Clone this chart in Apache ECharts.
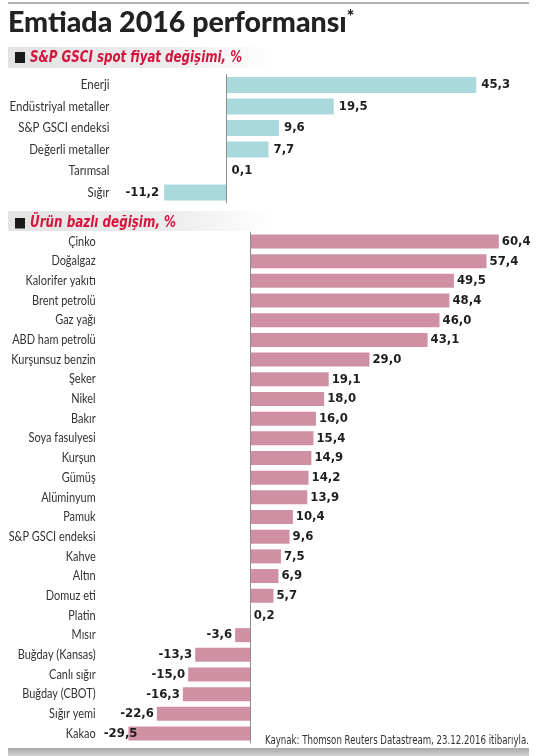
<!DOCTYPE html>
<html><head><meta charset="utf-8">
<script src="https://cdn.jsdelivr.net/npm/echarts@6/dist/echarts.min.js"></script>
<style>html,body{margin:0;padding:0;background:#fff}#c{width:551px;height:756px}</style>
</head><body><div id="c"></div>
<script>
const cat1 = ['Enerji','Endüstriyal metaller','S&P GSCI endeksi','Değerli metaller','Tarımsal','Sığır'];
const val1 = [45.3, 19.5, 9.6, 7.7, 0.1, -11.2];

const cat2 = ['Çinko','Doğalgaz','Kalorifer yakıtı','Brent petrolü','Gaz yağı','ABD ham petrolü','Kurşunsuz benzin','Şeker','Nikel','Bakır','Soya fasulyesi','Kurşun','Gümüş','Alüminyum','Pamuk','S&P GSCI endeksi','Kahve','Altın','Domuz eti','Platin','Mısır','Buğday (Kansas)','Canlı sığır','Buğday (CBOT)','Sığır yemi','Kakao'];
const val2 = [60.4, 57.4, 49.5, 48.4, 46.0, 43.1, 29.0, 19.1, 18.0, 16.0, 15.4, 14.9, 14.2, 13.9, 10.4, 9.6, 7.5, 6.9, 5.7, 0.2, -3.6, -13.3, -15.0, -16.3, -22.6, -29.5];

const title = 'Emtiada 2016 performansı';
const head1 = 'S&P GSCI spot fiyat değişimi, %';
const head2 = 'Ürün bazlı değişim, %';
const source = 'Kaynak: Thomson Reuters Datastream, 23.12.2016 itibarıyla.';

const F = "'DejaVu Sans Condensed','Noto Sans',sans-serif";
const fmt = v => (v < 0 ? '-' : '') + Math.abs(v).toFixed(1).replace('.', ',');
const overlapLabel = {'Kakao': -9};

// horizontal squeeze so the condensed newspaper texts fit their widths
const mctx = document.createElement('canvas').getContext('2d');
function textW(text, font) { mctx.font = font; return mctx.measureText(text).width; }
function squeeze(text, font, target) { return Math.min(1, target / textW(text, font)); }
function squeezeAll(list, font, target) {
  return Math.min(1, target / Math.max.apply(null, list.map(t => textW(t, font))));
}

function barData(vals, cats, dist) {
  return vals.map((v, i) => ({
    value: v,
    label: {
      position: v < 0 ? 'left' : 'right',
      distance: overlapLabel[cats[i]] !== undefined ? overlapLabel[cats[i]] : dist
    }
  }));
}

const headFont = "italic bold 16px 'DejaVu Sans Condensed'";
const footFont = "normal normal 12px 'DejaVu Sans Condensed'";
const catFont = "normal normal 13px Lato";
const sH1 = squeeze(head1, headFont, 212);
const sH2 = squeeze(head2, headFont, 146);
const sF = squeeze(source, footFont, 264);
const sC1 = squeezeAll(cat1, catFont, 100);
const sC2 = squeezeAll(cat2, catFont, 87);

function labelSeries(idx, cats, scale) {
  return {
    type: 'custom', xAxisIndex: idx, yAxisIndex: idx, silent: true, clip: false,
    data: cats.map(c => [0, c]),
    encode: {x: 0, y: 1},
    renderItem: (params, api) => {
      const pt = api.coord([0, api.value(1)]);
      return {
        type: 'text', x: params.coordSys.x - 6, y: pt[1], scaleX: scale,
        style: {text: cats[params.dataIndex], font: catFont, fill: '#333', align: 'right', verticalAlign: 'middle'}
      };
    }
  };
}

const chart = echarts.init(document.getElementById('c'), null, {renderer: 'canvas'});
const valueLabel = {show: true, formatter: p => fmt(p.value), fontWeight: 'bold', fontSize: 13, color: '#1e1e1e', fontFamily: F};
const zeroLine = {silent: true, symbol: 'none', label: {show: false}, lineStyle: {color: '#8c8c8c', width: 1, type: 'solid'}, data: [{xAxis: 0}], animation: false};
const bandFill = () => new echarts.graphic.LinearGradient(0,0,1,0,[{offset:0,color:'#e3e3e3'},{offset:0.6,color:'#ececec'},{offset:1,color:'#ffffff'}]);

chart.setOption({
  animation: false,
  backgroundColor: '#fff',
  graphic: [
    {type: 'line', shape: {x1: 8, y1: 3, x2: 529, y2: 3}, style: {stroke: '#9a9a9a', lineWidth: 1.5}},
    {type: 'text', x: 8, y: 8, scaleX: 0.985, style: {text: title + '{s|*}', fontFamily: 'Lato', fontWeight: 900, fontSize: 29, fill: '#222', verticalAlign: 'top',
      rich: {s: {fontFamily: 'Lato', fontWeight: 900, fontSize: 18, fill: '#222', verticalAlign: 'top', padding: [0,0,10,0]}}}},
    {type: 'rect', shape: {x: 8, y: 47, width: 265, height: 21}, style: {fill: bandFill()}},
    {type: 'rect', shape: {x: 8, y: 211, width: 265, height: 20}, style: {fill: bandFill()}},
    {type: 'rect', shape: {x: 15, y: 52, width: 10, height: 11}, style: {fill: '#1a1a1a'}},
    {type: 'rect', shape: {x: 15, y: 218, width: 10, height: 10.5}, style: {fill: '#1a1a1a'}},
    {type: 'text', x: 30, y: 58, scaleX: sH1, style: {text: head1, font: headFont, fill: '#d4143c', verticalAlign: 'middle'}},
    {type: 'text', x: 30, y: 223, scaleX: sH2, style: {text: head2, font: headFont, fill: '#d4143c', verticalAlign: 'middle'}},
    {type: 'text', x: 265, y: 741, scaleX: sF, style: {text: source, font: footFont, fill: '#333', verticalAlign: 'middle'}},
    {type: 'rect', shape: {x: 8, y: 748, width: 521, height: 8}, style: {fill: new echarts.graphic.LinearGradient(0,0,0,1,[{offset:0,color:'#a8a8a8'},{offset:1,color:'#d4d4d4'}])}}
  ],
  grid: [
    {left: 115.5, width: 386.75, top: 74.25, height: 129, outerBoundsMode: 'none', containLabel: false},
    {left: 101.68, width: 436.72, top: 231.66, height: 511.7, outerBoundsMode: 'none', containLabel: false}
  ],
  xAxis: [
    {gridIndex: 0, type: 'value', min: -20, max: 50, show: false},
    {gridIndex: 1, type: 'value', min: -36, max: 70, show: false}
  ],
  yAxis: [
    {gridIndex: 0, type: 'category', data: cat1, inverse: true, axisLine: {show: false}, axisTick: {show: false}, axisLabel: {show: false}},
    {gridIndex: 1, type: 'category', data: cat2, inverse: true, axisLine: {show: false}, axisTick: {show: false}, axisLabel: {show: false}}
  ],
  series: [
    {type: 'bar', xAxisIndex: 0, yAxisIndex: 0, data: barData(val1, cat1, 5), barWidth: 16,
      itemStyle: {color: '#a9d9dc'}, label: valueLabel, markLine: zeroLine},
    {type: 'bar', xAxisIndex: 1, yAxisIndex: 1, data: barData(val2, cat2, 3), barWidth: 14,
      itemStyle: {color: '#cf90a3'}, label: valueLabel, markLine: zeroLine},
    labelSeries(0, cat1, sC1),
    labelSeries(1, cat2, sC2)
  ]
});
</script>
</body></html>
